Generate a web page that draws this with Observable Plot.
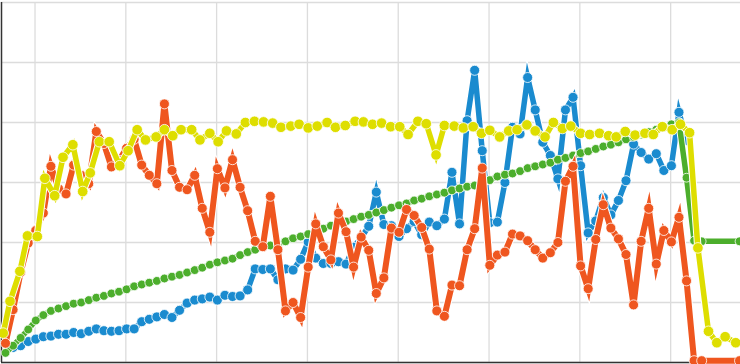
<!DOCTYPE html>
<html><head><meta charset="utf-8">
<script src="https://cdn.jsdelivr.net/npm/d3@7"></script>
<script src="https://cdn.jsdelivr.net/npm/@observablehq/plot@0.6"></script>
<style>html,body{margin:0;padding:0;background:#fff;}#chart{width:740px;height:364px;overflow:hidden;}</style>
</head><body><div id="chart"></div>
<script>
// x ticks (grid positions, in sample-index units) and y ticks
const xTicks = [3.9, 15.9, 27.9, 39.9, 51.9, 63.9, 75.9, 87.9];
const yTicks = [0, 10, 20, 30, 40, 50, 60];

// blue series, sample index 0..90
const blueValues = [null,2.5,2.8,3.5,3.9,4.3,4.4,4.7,4.7,5.0,
  4.8,5.2,5.6,5.3,5.2,5.3,5.6,5.6,6.8,7.2,
  7.6,8.0,7.5,8.7,9.9,10.4,10.6,10.9,10.4,11.2,
  11.0,11.1,12.1,15.6,15.5,15.6,13.8,15.6,15.4,17.2,
  20.1,17.4,16.5,16.5,16.8,16.4,19.2,20.8,22.7,28.4,
  23.0,22.8,21.0,22.3,23.5,21.3,23.4,22.8,23.9,31.7,
  23.1,40.3,48.7,35.3,23.3,23.4,30.0,39.2,38.1,47.5,
  42.1,36.7,34.5,30.6,42.1,44.2,32.8,21.6,23.6,27.5,
  24.6,27.0,30.3,36.4,35.0,33.9,34.8,32.0,32.8,41.7,
  37.0];

// green series, sample index 0..97 (gap 93..96)
const greenValues = [1.6,2.8,4.1,5.5,7.0,7.9,8.6,9.0,9.4,9.8,
  10.0,10.4,10.8,11.1,11.5,11.8,12.2,12.7,13.0,13.3,
  13.6,14.0,14.3,14.6,15.0,15.4,15.8,16.3,16.7,17.0,
  17.3,17.9,18.4,18.8,19.3,19.5,19.8,20.2,20.7,21.0,
  21.4,21.8,22.3,22.8,23.2,23.5,23.9,24.3,24.6,25.0,
  25.4,25.8,26.2,26.5,27.0,27.3,27.7,28.0,28.3,28.7,
  29.0,29.3,29.5,29.9,30.4,31.0,31.3,31.5,31.9,32.4,
  32.7,33.0,33.3,33.8,34.1,34.5,34.9,35.2,35.6,36.0,
  36.3,36.7,37.2,37.6,38.0,38.4,38.8,39.2,39.7,40.0,
  30.8,20.3,20.2,null,null,null,null,20.2];

// orange series, sample index 0..97 (gap 93..96)
const orangeValues = [3.2,8.8,15.0,19.9,22.0,24.9,32.7,29.0,28.1,32.9,
  31.2,29.8,38.5,36.5,32.6,33.7,35.7,37.2,32.9,31.2,
  29.8,43.1,32.0,29.2,28.8,31.2,25.7,21.7,32.3,29.1,
  33.8,29.2,25.3,20.2,19.3,27.7,18.8,8.6,10.0,7.5,
  15.9,23.1,19.3,17.1,24.9,21.8,15.9,20.9,18.7,11.5,
  14.1,22.4,21.7,25.5,24.5,22.5,18.9,8.6,7.7,12.9,
  12.8,18.8,22.3,32.4,16.2,17.9,18.4,21.4,21.1,20.3,
  18.8,17.4,18.3,20.0,30.2,32.7,16.1,12.3,20.5,26.3,
  22.4,20.6,18.0,9.6,20.2,25.7,16.4,22.0,20.1,24.2,
  13.6,0.3,0.3,null,null,null,null,0.3];

// yellow series has its own sample positions
const yellowX = [-0.3,0.6,1.9,2.9,4.2,5.2,6.5,7.6,8.9,10.2,
  11.2,12.4,13.7,15.1,16.2,17.4,18.5,19.9,21.0,22.1,
  23.2,24.6,25.7,27.0,28.1,29.2,30.5,31.7,32.9,34.1,
  35.3,36.4,37.7,38.8,40.0,41.2,42.5,43.6,44.9,46.2,
  47.3,48.5,49.7,50.9,52.1,53.2,54.5,55.6,56.9,58.0,
  59.3,60.5,61.8,62.9,64.0,65.3,66.5,67.6,68.9,70.0,
  71.3,72.4,73.6,74.7,76.0,77.2,78.5,79.7,80.7,81.9,
  83.2,84.5,85.6,86.8,88.1,89.2,90.4,91.5,92.9,94.0,
  95.1,96.5];
const yellowValues = [4.9,10.2,15.2,21.1,21.0,30.7,27.8,34.2,36.3,28.5,
  31.6,36.8,36.8,32.8,35.3,38.8,37.1,37.6,38.8,37.8,
  38.8,38.8,37.1,38.2,36.8,38.6,38.1,40.0,40.2,40.1,
  39.9,39.2,39.4,39.7,39.1,39.4,40.0,39.2,39.5,40.2,
  40.1,39.7,39.9,39.3,39.3,38.0,40.2,39.8,34.6,39.5,
  39.4,39.1,39.3,38.2,38.7,37.6,38.6,38.8,39.6,38.6,
  37.6,40.0,39.0,39.4,38.2,38.0,38.2,37.8,37.6,38.5,
  37.9,38.2,38.0,39.3,38.8,39.7,38.3,19.1,5.2,3.3,
  4.3,3.3];

const colors = {blue: "#1a8bcf", green: "#4cae2c", orange: "#ef561f", yellow: "#dede00"};

function rows(vals, xs) {
  return vals.map((v, i) => ({x: xs ? xs[i] : i, y: v})).filter(d => d.y != null);
}
function series(data, color, lw, r) {
  return [
    Plot.line(data, {x: "x", y: "y", stroke: "white", strokeWidth: lw + 2, strokeLinejoin: "miter", strokeMiterlimit: 6}),
    Plot.line(data, {x: "x", y: "y", stroke: color, strokeWidth: lw, strokeLinejoin: "miter", strokeMiterlimit: 6}),
    Plot.dot(data, {x: "x", y: "y", r: r, fill: color, stroke: "white", strokeWidth: 0.8})
  ];
}

const xMin = -0.529, xMax = 97.13;
const chart = Plot.plot({
  width: 740, height: 364,
  marginLeft: 1, marginRight: 0, marginTop: 2, marginBottom: 2,
  x: {domain: [xMin, xMax], axis: null},
  y: {domain: [0, 60], axis: null},
  marks: [
    Plot.gridX(xTicks, {stroke: "#dcdcdc", strokeOpacity: 1, strokeWidth: 1.3}),
    Plot.gridY(yTicks, {stroke: "#dcdcdc", strokeOpacity: 1, strokeWidth: 1.3}),
    Plot.ruleX([xMin], {stroke: "#333", strokeWidth: 1.5}),
    Plot.ruleY([0], {stroke: "#333", strokeWidth: 1.5}),
    ...series(rows(blueValues), colors.blue, 5.5, 5),
    ...series(rows(greenValues), colors.green, 5.5, 4.4),
    ...series(rows(orangeValues), colors.orange, 6, 5),
    ...series(rows(yellowValues, yellowX), colors.yellow, 5.5, 5.3)
  ]
});
document.getElementById("chart").appendChild(chart);
</script>
</body></html>
